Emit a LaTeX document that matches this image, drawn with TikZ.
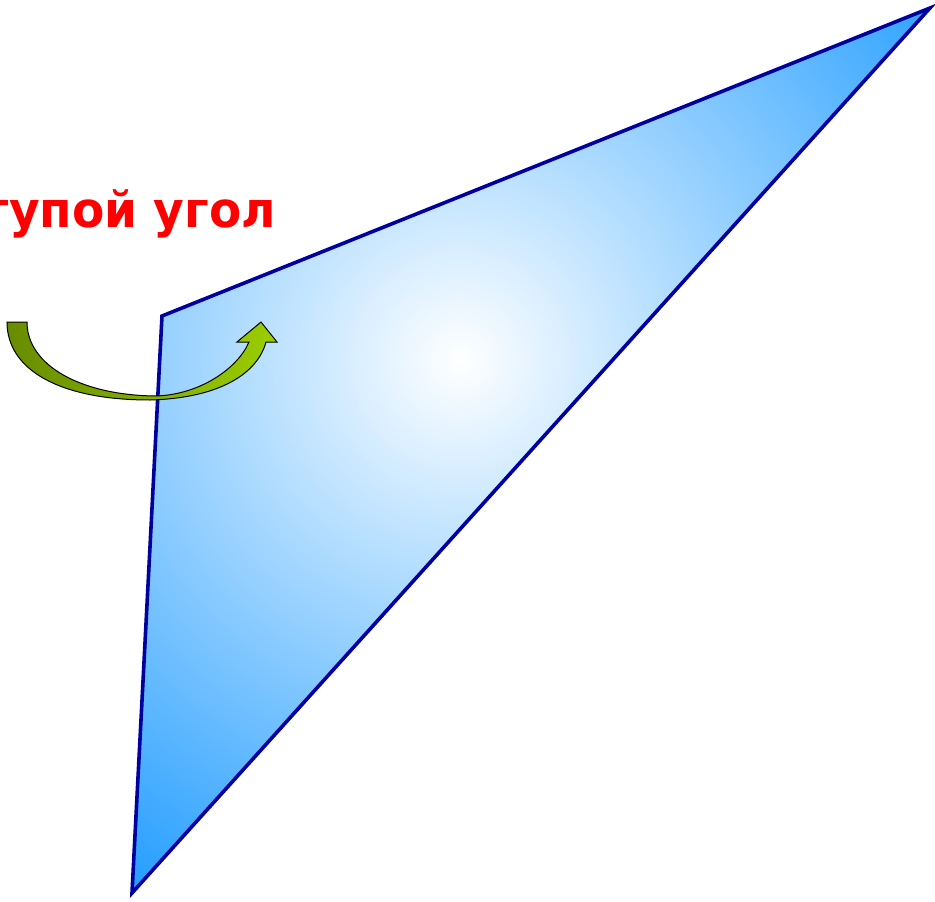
\documentclass[tikz,border=0pt]{standalone}
\usepackage{fontspec}
\newfontfamily\labelfont{DejaVu Sans}[FakeStretch=0.95]
\usetikzlibrary{positioning}

\definecolor{edgeNavy}{RGB}{0,0,160}
\definecolor{fillBlue}{RGB}{30,155,255}
\definecolor{arrowDark}{RGB}{104,140,0}
\definecolor{arrowLight}{RGB}{155,206,0}

\begin{document}
\begin{tikzpicture}[
    x=1pt, y=-1pt,
    % Triangle Styles
    triEdge/.style={draw=edgeNavy, line width=3.6pt, line join=miter},
    % Label Style
    angleText/.style={
        inner sep=0pt, text=red, font=\labelfont\bfseries\fontsize{49.5}{58}\selectfont
    },
    % Arrow Style
    turnArrow/.style={draw=black, line width=1pt, left color=arrowDark, right color=arrowLight}
]
    \useasboundingbox (0,0) rectangle (935,902);

    % --- TRIANGLE ---
    \coordinate (vObtuse) at (162,316);
    \coordinate (vTop) at (930,8);
    \coordinate (vBottom) at (132,893);

    \begin{scope}
        \clip (vObtuse) -- (vTop) -- (vBottom) -- cycle;
        \shade[inner color=white, outer color=fillBlue] (460,360) circle (640);
    \end{scope}
    \draw[triEdge] (vObtuse) -- (vTop) -- (vBottom) -- cycle;

    % --- LABEL ---
    \node[angleText, anchor=base east] (angleLabel) at (276,227) {тупой угол};

    % --- CURVED ARROW ---
    \path[turnArrow] (7,322) -- (27,322)
        .. controls (27,365) and (80,395) .. (155,396)
        .. controls (200,395) and (238,368) .. (249,342)
        -- (237,342) -- (261,322) -- (277,342) -- (266,342)
        .. controls (258,372) and (222,398) .. (150,400)
        .. controls (60,400) and (7,370) .. (7,322) -- cycle;

\end{tikzpicture}
\end{document}
